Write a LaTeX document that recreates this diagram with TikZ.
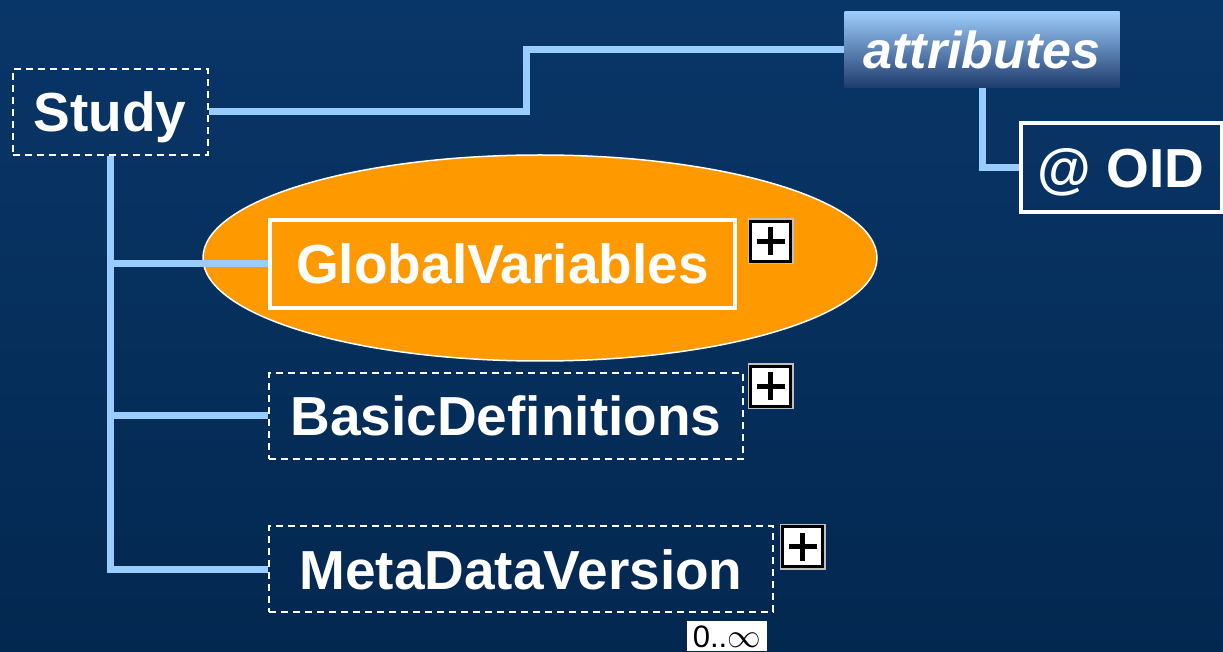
\documentclass[tikz,border=0pt]{standalone}
\usepackage{fontspec}
\setmainfont{Liberation Sans}
\usetikzlibrary{positioning,backgrounds,shapes}
\definecolor{slidetop}{RGB}{9,54,104}
\definecolor{slidebot}{RGB}{3,40,80}
\definecolor{linkblue}{RGB}{153,204,255}
\definecolor{attrtop}{RGB}{156,204,250}
\definecolor{attrbot}{RGB}{30,58,108}
\definecolor{selorange}{RGB}{255,153,0}
\tikzset{
    %Define standard element box
    elem/.style={
      rectangle,
      draw=white, line width=2pt,
      dash pattern=on 7pt off 5pt,
      text=white,
      font=\bfseries\fontsize{55}{60}\selectfont,
      text height=40pt, text depth=0pt,
      minimum height=86pt,
      inner sep=0pt},
    keybox/.style={
      elem,
      solid, line width=4pt},
    attrbox/.style={
      rectangle,
      top color=attrtop, bottom color=attrbot,
      text=white,
      font=\bfseries\itshape\fontsize{52}{56}\selectfont,
      text height=38pt, text depth=0pt,
      minimum width=275pt, minimum height=76pt,
      inner sep=0pt},
    oval/.style={
      ellipse,
      fill=selorange, draw=white, line width=1.5pt,
      minimum width=674pt, minimum height=206pt},
    plusbox/.style={
      rectangle,
      fill=white, draw=black, line width=3pt,
      preaction={draw=gray!50, line width=6pt},
      minimum width=40pt, minimum height=40pt,
      inner sep=0pt,
      path picture={
        \draw[line width=4.5pt] ([xshift=-14pt]path picture bounding box.center)
          -- ([xshift=14pt]path picture bounding box.center);
        \draw[line width=4.5pt] ([yshift=-14pt]path picture bounding box.center)
          -- ([yshift=14pt]path picture bounding box.center);}},
    cardbox/.style={
      rectangle,
      fill=white, text=black,
      font=\fontsize{31}{33}\selectfont,
      text height=22pt, text depth=0pt,
      minimum width=80pt, minimum height=30pt,
      inner sep=0pt},
    conn/.style={
      draw=linkblue, line width=7pt}
}
\begin{document}
\begin{tikzpicture}[x=1pt,y=1pt]
    \useasboundingbox (0,0) rectangle (1223,651);
    \node (study) [elem, minimum width=195pt] at (110,539)
          {Study};
    \node (attr) [attrbox] at (982,601)
          {attributes};
    \node (oid) [keybox, minimum width=201pt, minimum height=89pt] at (1121,483)
          {@ OID};
    \node (gv) [keybox, minimum width=465pt, minimum height=88pt, anchor=west] at (268,387)
          {GlobalVariables};
    \node (bd) [elem, minimum width=474pt] [below=62pt of gv.south west, anchor=north west]
          {BasicDefinitions};
    \node (mdv) [elem, minimum width=504pt] [below=65pt of bd.south west, anchor=north west]
          {MetaDataVersion};
    \node (gvplus) [plusbox, anchor=north west] at ([xshift=12pt,yshift=-2pt]gv.north east) {};
    \node (bdplus) [plusbox, anchor=north west] at ([xshift=5pt,yshift=7pt]bd.north east) {};
    \node (mdvplus) [plusbox, anchor=north west] at ([xshift=7pt,yshift=0pt]mdv.north east) {};
    \node (card) [cardbox, anchor=north east] at ([xshift=-7pt,yshift=-8pt]mdv.south east)
          {0..\scalebox{1.35}{$\infty$}};
    \begin{pgfonlayer}{background}
      \fill[top color=slidetop, bottom color=slidebot] (0,0) rectangle (1223,651);
      \node (gvoval) [oval] at (540,393) {};
      \draw[conn] (study.east) -- ++(318,0) |- (attr.west);
      \draw[conn] (attr.south) |- (oid.west);
      \draw[conn] (study.south) |- (gv.west);
      \draw[conn] (study.south) |- (bd.west);
      \draw[conn] (study.south) |- (mdv.west);
    \end{pgfonlayer}
\end{tikzpicture}
\end{document}
